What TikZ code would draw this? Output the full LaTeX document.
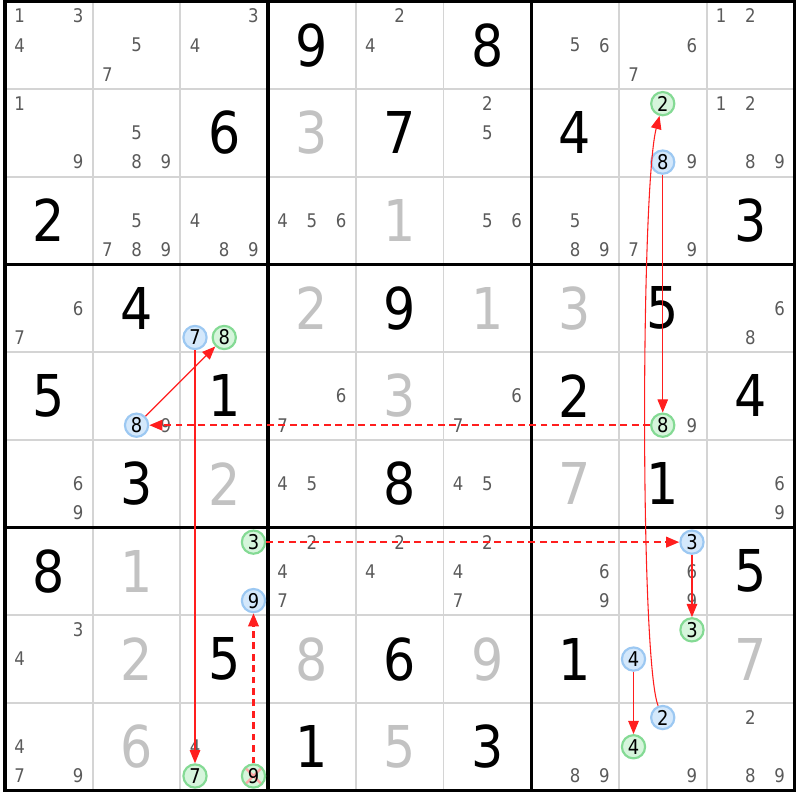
\documentclass[tikz,border=0pt]{standalone}
\usepackage{fontspec}
\setmainfont{DejaVu Sans}[FakeStretch=0.88]
\usepackage[HTML]{xcolor}
\usetikzlibrary{arrows.meta}

\definecolor{candgray}{HTML}{5A5A5A}
\definecolor{solvedgray}{HTML}{C2C2C2}
\definecolor{gridgray}{HTML}{D4D4D4}
\definecolor{onfill}{HTML}{D6F5DC}
\definecolor{ondraw}{HTML}{84DA94}
\definecolor{offfill}{HTML}{D4E8FB}
\definecolor{offdraw}{HTML}{9CC8F2}
\definecolor{linkred}{HTML}{FF1E1E}

\tikzset{
  thinline/.style={gridgray, line width=0.6pt},
  boxline/.style={black, line width=1.1pt},
  given/.style={font=\fontsize{18.7}{20}\selectfont, inner sep=0pt},
  solved/.style={given, text=solvedgray},
  cand/.style={font=\fontsize{6.1}{7}\selectfont, text=candgray, inner sep=0pt},
  offcand/.style={circle, draw=offdraw, fill=offfill, line width=0.7pt,
    minimum size=0.265cm, inner sep=0pt, font=\fontsize{6.6}{7}\selectfont},
  oncand/.style={offcand, draw=ondraw, fill=onfill},
  killed/.style={path picture={
    \draw[linkred!40, line width=0.7pt]
      (path picture bounding box.south west) -- (path picture bounding box.north east)
      (path picture bounding box.north west) -- (path picture bounding box.south east);}},
  cpos/.style n args={3}{at={({#2-1+(mod(#3-1,3)+0.5)/3},{10-#1-(floor((#3-1)/3)+0.5)/3})}},
  strong/.style={linkred, line width=0.35pt, -{Triangle[length=1.5mm,width=1.2mm]}},
  weak/.style={strong, line width=0.7pt, dash pattern=on 2.2pt off 1.5pt},
}

\begin{document}
\begin{tikzpicture}
\useasboundingbox (-0.057,-0.107) rectangle (9.065,9.015);
% grid
\foreach \i in {1,...,8}{
  \draw[thinline] (\i,0) -- (\i,9);
  \draw[thinline] (0,\i) -- (9,\i);
}
\foreach \i in {3,6}{
  \draw[boxline] (\i,0) -- (\i,9);
  \draw[boxline] (0,\i) -- (9,\i);
}
\draw[boxline] (0,0) rectangle (9,9);
% givens and solved cells
\foreach \r/\c/\d in {1/4/9,1/6/8,2/3/6,2/5/7,2/7/4,3/1/2,3/9/3,4/2/4,4/5/9,4/8/5,
  5/1/5,5/3/1,5/7/2,5/9/4,6/2/3,6/5/8,6/8/1,7/1/8,7/9/5,8/3/5,8/5/6,8/7/1,9/4/1,9/6/3}
  \node[given] at (\c-0.5,9.5-\r) {\d};
\foreach \r/\c/\d in {2/4/3,3/5/1,4/4/2,4/6/1,4/7/3,5/5/3,6/3/2,6/7/7,7/2/1,8/2/2,
  8/4/8,8/6/9,8/9/7,9/2/6,9/5/5}
  \node[solved] at (\c-0.5,9.5-\r) {\d};
% candidates
\foreach \r/\c/\ds in {1/1/{1,3,4},1/2/{5,7},1/3/{3,4},1/5/{2,4},1/7/{5,6},1/8/{6,7},1/9/{1,2},
  2/1/{1,9},2/2/{5,8,9},2/6/{2,5},2/8/{9},2/9/{1,2,8,9},
  3/2/{5,7,8,9},3/3/{4,8,9},3/4/{4,5,6},3/6/{5,6},3/7/{5,8,9},3/8/{7,9},
  4/1/{6,7},4/9/{6,8},5/2/{9},5/4/{6,7},5/6/{6,7},5/8/{9},
  6/1/{6,9},6/4/{4,5},6/6/{4,5},6/9/{6,9},
  7/4/{2,4,7},7/5/{2,4},7/6/{2,4,7},7/7/{6,9},7/8/{6,9},8/1/{3,4},
  9/1/{4,7,9},9/3/{4},9/7/{8,9},9/8/{9},9/9/{2,8,9}}
  \foreach \d in \ds
    \node[cand, cpos={\r}{\c}{\d}] {\d};
% chain candidates
\node[offcand, cpos={2}{8}{8}] (r2c8n8) {8};
\node[oncand, cpos={2}{8}{2}] (r2c8n2) {2};
\node[oncand, cpos={5}{8}{8}] (r5c8n8) {8};
\node[offcand, cpos={5}{2}{8}] (r5c2n8) {8};
\node[oncand, cpos={4}{3}{8}] (r4c3n8) {8};
\node[offcand, cpos={4}{3}{7}] (r4c3n7) {7};
\node[oncand, cpos={9}{3}{7}] (r9c3n7) {7};
\node[oncand, killed, cpos={9}{3}{9}] (r9c3n9) {9};
\node[offcand, cpos={7}{3}{9}] (r7c3n9) {9};
\node[oncand, cpos={7}{3}{3}] (r7c3n3) {3};
\node[offcand, cpos={7}{8}{3}] (r7c8n3) {3};
\node[oncand, cpos={8}{8}{3}] (r8c8n3) {3};
\node[offcand, cpos={8}{8}{4}] (r8c8n4) {4};
\node[oncand, cpos={9}{8}{4}] (r9c8n4) {4};
\node[offcand, cpos={9}{8}{2}] (r9c8n2) {2};
% links
\draw[strong] (r2c8n8) -- (r5c8n8);
\draw[weak] (r5c8n8) -- (r5c2n8);
\draw[strong] (r5c2n8) -- (r4c3n8);
\draw[strong] (r4c3n7) -- (r9c3n7);
\draw[weak] (r9c3n9) -- (r7c3n9);
\draw[weak] (r7c3n3) -- (r7c8n3);
\draw[strong] (r7c8n3) -- (r8c8n3);
\draw[strong] (r8c8n4) -- (r9c8n4);
\draw[strong] (r9c8n2) .. controls +(-0.26,0.66) and +(-0.25,-0.95) .. (r2c8n2);
\end{tikzpicture}
\end{document}
